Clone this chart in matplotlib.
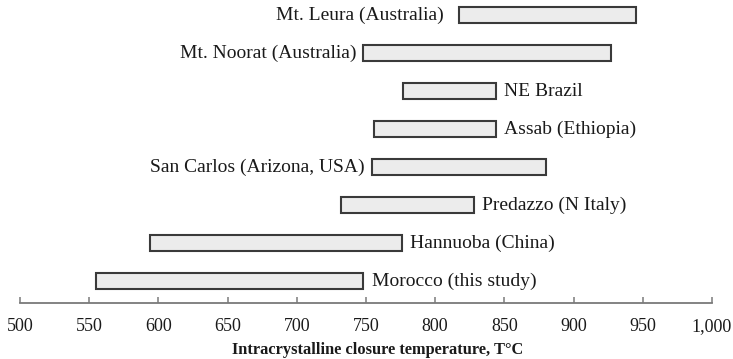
import matplotlib
matplotlib.use('Agg')
import matplotlib.pyplot as plt

plt.rcParams['font.family'] = ['Liberation Serif', 'DejaVu Serif']

# bottom to top
sites = ['Morocco (this study)', 'Hannuoba (China)', 'Predazzo (N Italy)',
         'San Carlos (Arizona, USA)', 'Assab (Ethiopia)', 'NE Brazil',
         'Mt. Noorat (Australia)', 'Mt. Leura (Australia)']
t_min = [555, 594, 732, 754, 756, 777, 748, 817]
t_max = [748, 776, 828, 880, 844, 844, 927, 945]
label_side = ['right', 'right', 'right', 'left', 'right', 'right', 'left', 'left']
label_gap = [6, 6, 6, 5, 6, 6, 5, 11]  # points between bar and label

xticks = list(range(500, 1001, 50))
xticklabels = ['{:,}'.format(v) for v in xticks]

fig = plt.figure(figsize=(7.33, 3.59), dpi=100)
ax = fig.add_axes([0.0273, 0.157, 0.944, 0.843])

ypos = list(range(len(sites)))
widths = [b - a for a, b in zip(t_min, t_max)]
ax.barh(ypos, widths, left=t_min, height=0.42, color='#ececec',
        edgecolor='#3a3a3a', linewidth=1.5)

for y, a, b, name, side, gap in zip(ypos, t_min, t_max, sites, label_side, label_gap):
    if side == 'left':
        ax.annotate(name, (a, y), xytext=(-gap, 0), textcoords='offset points',
                    ha='right', va='center', fontsize=14, color='#1a1a1a')
    else:
        ax.annotate(name, (b, y), xytext=(gap, 0), textcoords='offset points',
                    ha='left', va='center', fontsize=14, color='#1a1a1a')

ax.set_xlim(500, 1000)
ax.set_ylim(-0.57, 7.395)
ax.set_xticks(xticks)
ax.set_xticklabels(xticklabels, fontsize=13, color='#1a1a1a')
ax.set_yticks([])
for s in ['top', 'right', 'left']:
    ax.spines[s].set_visible(False)
ax.spines['bottom'].set_color('#7a7a7a')
ax.spines['bottom'].set_linewidth(1.3)
ax.tick_params(axis='x', direction='in', length=4, width=1.1, color='#7a7a7a', pad=11)
ax.set_xlabel('Intracrystalline closure temperature, T°C', fontsize=11.8,
              fontweight='bold', labelpad=5, color='#1a1a1a', x=0.517)

fig.savefig('out.png', dpi=100)
